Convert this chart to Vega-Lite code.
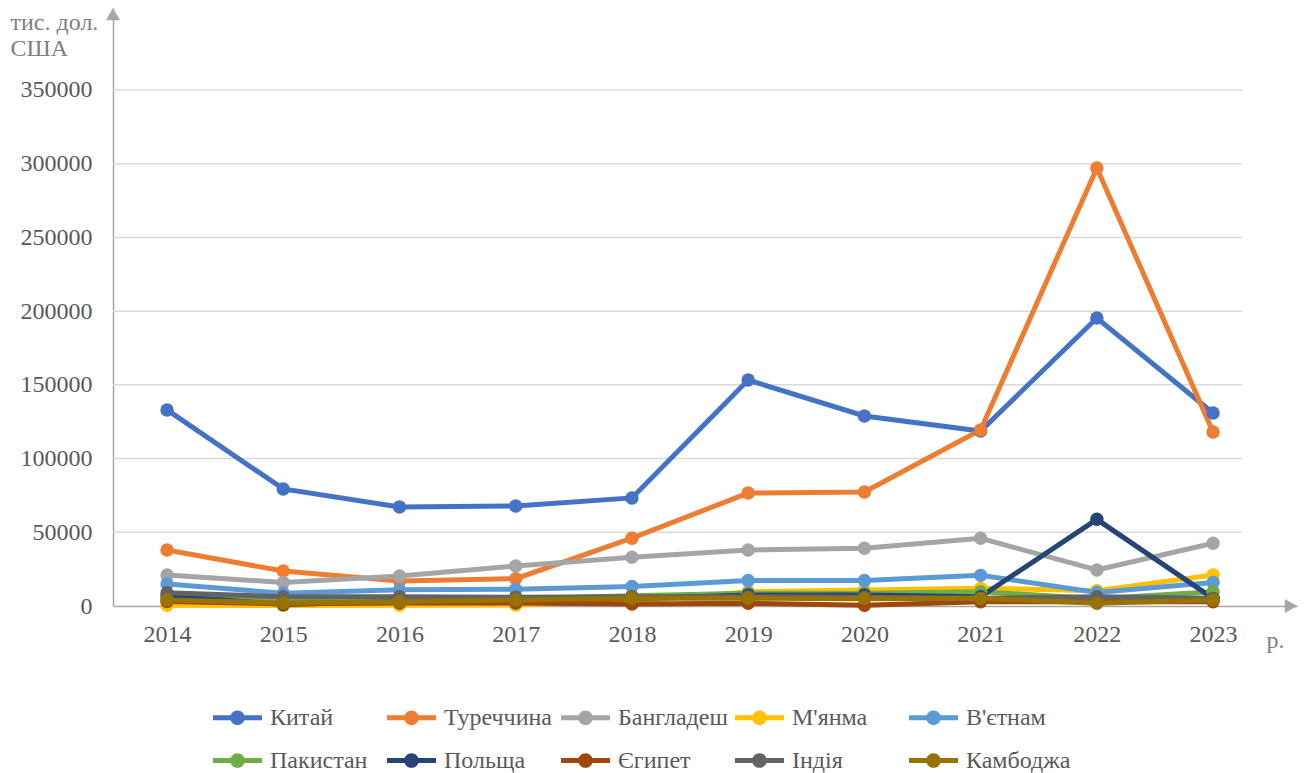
{
  "$schema": "https://vega.github.io/schema/vega-lite/v6.json",
  "autosize": {"type": "none"},
  "padding": {"left": 113, "top": 8, "right": 7, "bottom": 167},
  "width": 1184,
  "height": 598,
  "background": "white",
  "config": {
    "font": "Liberation Serif",
    "view": {"stroke": null},
    "axis": {
      "labelFont": "Liberation Serif",
      "labelFontSize": 24,
      "labelColor": "#595959",
      "titleFont": "Liberation Serif",
      "titleFontSize": 24,
      "titleFontWeight": "normal",
      "titleColor": "#7f7f7f",
      "domainColor": "#a6a6a6",
      "domainWidth": 1.5,
      "ticks": false,
      "grid": false
    },
    "legend": {"labelFont": "Liberation Serif"}
  },
  "datasets": {
    "exports": [
      {"country": "Китай", "year": 2014, "value": 133000},
      {"country": "Китай", "year": 2015, "value": 79400},
      {"country": "Китай", "year": 2016, "value": 67200},
      {"country": "Китай", "year": 2017, "value": 67800},
      {"country": "Китай", "year": 2018, "value": 73300},
      {"country": "Китай", "year": 2019, "value": 153300},
      {"country": "Китай", "year": 2020, "value": 128900},
      {"country": "Китай", "year": 2021, "value": 118700},
      {"country": "Китай", "year": 2022, "value": 195300},
      {"country": "Китай", "year": 2023, "value": 130900},
      {"country": "Туреччина", "year": 2014, "value": 38000},
      {"country": "Туреччина", "year": 2015, "value": 23700},
      {"country": "Туреччина", "year": 2016, "value": 17000},
      {"country": "Туреччина", "year": 2017, "value": 18500},
      {"country": "Туреччина", "year": 2018, "value": 46000},
      {"country": "Туреччина", "year": 2019, "value": 76600},
      {"country": "Туреччина", "year": 2020, "value": 77300},
      {"country": "Туреччина", "year": 2021, "value": 119400},
      {"country": "Туреччина", "year": 2022, "value": 297100},
      {"country": "Туреччина", "year": 2023, "value": 118000},
      {"country": "Бангладеш", "year": 2014, "value": 21000},
      {"country": "Бангладеш", "year": 2015, "value": 16000},
      {"country": "Бангладеш", "year": 2016, "value": 20300},
      {"country": "Бангладеш", "year": 2017, "value": 27100},
      {"country": "Бангладеш", "year": 2018, "value": 33100},
      {"country": "Бангладеш", "year": 2019, "value": 38000},
      {"country": "Бангладеш", "year": 2020, "value": 39200},
      {"country": "Бангладеш", "year": 2021, "value": 45900},
      {"country": "Бангладеш", "year": 2022, "value": 24400},
      {"country": "Бангладеш", "year": 2023, "value": 42600},
      {"country": "М'янма", "year": 2014, "value": 500},
      {"country": "М'янма", "year": 2015, "value": 300},
      {"country": "М'янма", "year": 2016, "value": 500},
      {"country": "М'янма", "year": 2017, "value": 700},
      {"country": "М'янма", "year": 2018, "value": 3000},
      {"country": "М'янма", "year": 2019, "value": 9700},
      {"country": "М'янма", "year": 2020, "value": 10800},
      {"country": "М'янма", "year": 2021, "value": 12000},
      {"country": "М'янма", "year": 2022, "value": 10400},
      {"country": "М'янма", "year": 2023, "value": 21000},
      {"country": "В'єтнам", "year": 2014, "value": 15000},
      {"country": "В'єтнам", "year": 2015, "value": 8600},
      {"country": "В'єтнам", "year": 2016, "value": 11000},
      {"country": "В'єтнам", "year": 2017, "value": 11300},
      {"country": "В'єтнам", "year": 2018, "value": 13200},
      {"country": "В'єтнам", "year": 2019, "value": 17300},
      {"country": "В'єтнам", "year": 2020, "value": 17300},
      {"country": "В'єтнам", "year": 2021, "value": 20800},
      {"country": "В'єтнам", "year": 2022, "value": 9200},
      {"country": "В'єтнам", "year": 2023, "value": 16000},
      {"country": "Пакистан", "year": 2014, "value": 5000},
      {"country": "Пакистан", "year": 2015, "value": 4000},
      {"country": "Пакистан", "year": 2016, "value": 4500},
      {"country": "Пакистан", "year": 2017, "value": 5000},
      {"country": "Пакистан", "year": 2018, "value": 7000},
      {"country": "Пакистан", "year": 2019, "value": 8600},
      {"country": "Пакистан", "year": 2020, "value": 8600},
      {"country": "Пакистан", "year": 2021, "value": 9700},
      {"country": "Пакистан", "year": 2022, "value": 5000},
      {"country": "Пакистан", "year": 2023, "value": 9700},
      {"country": "Польща", "year": 2014, "value": 7000},
      {"country": "Польща", "year": 2015, "value": 1000},
      {"country": "Польща", "year": 2016, "value": 3000},
      {"country": "Польща", "year": 2017, "value": 4000},
      {"country": "Польща", "year": 2018, "value": 5000},
      {"country": "Польща", "year": 2019, "value": 7500},
      {"country": "Польща", "year": 2020, "value": 7500},
      {"country": "Польща", "year": 2021, "value": 6300},
      {"country": "Польща", "year": 2022, "value": 58800},
      {"country": "Польща", "year": 2023, "value": 5200},
      {"country": "Єгипет", "year": 2014, "value": 3000},
      {"country": "Єгипет", "year": 2015, "value": 1500},
      {"country": "Єгипет", "year": 2016, "value": 2000},
      {"country": "Єгипет", "year": 2017, "value": 2000},
      {"country": "Єгипет", "year": 2018, "value": 1300},
      {"country": "Єгипет", "year": 2019, "value": 1800},
      {"country": "Єгипет", "year": 2020, "value": 500},
      {"country": "Єгипет", "year": 2021, "value": 2900},
      {"country": "Єгипет", "year": 2022, "value": 2900},
      {"country": "Єгипет", "year": 2023, "value": 2900},
      {"country": "Індія", "year": 2014, "value": 9000},
      {"country": "Індія", "year": 2015, "value": 6300},
      {"country": "Індія", "year": 2016, "value": 6300},
      {"country": "Індія", "year": 2017, "value": 6000},
      {"country": "Індія", "year": 2018, "value": 6300},
      {"country": "Індія", "year": 2019, "value": 6300},
      {"country": "Індія", "year": 2020, "value": 6000},
      {"country": "Індія", "year": 2021, "value": 5200},
      {"country": "Індія", "year": 2022, "value": 6300},
      {"country": "Індія", "year": 2023, "value": 5200},
      {"country": "Камбоджа", "year": 2014, "value": 4100},
      {"country": "Камбоджа", "year": 2015, "value": 2000},
      {"country": "Камбоджа", "year": 2016, "value": 2900},
      {"country": "Камбоджа", "year": 2017, "value": 4100},
      {"country": "Камбоджа", "year": 2018, "value": 5200},
      {"country": "Камбоджа", "year": 2019, "value": 5200},
      {"country": "Камбоджа", "year": 2020, "value": 5000},
      {"country": "Камбоджа", "year": 2021, "value": 5200},
      {"country": "Камбоджа", "year": 2022, "value": 1800},
      {"country": "Камбоджа", "year": 2023, "value": 4100}
    ]
  },
  "layer": [
    {
      "data": {"values": [
        {"value": 50000}, {"value": 100000}, {"value": 150000}, {"value": 200000},
        {"value": 250000}, {"value": 300000}, {"value": 350000}
      ]},
      "mark": {"type": "rule", "color": "#d9d9d9", "strokeWidth": 1.5},
      "encoding": {
        "y": {"field": "value", "type": "quantitative", "title": ["тис. дол.", "США"]},
        "x": {"datum": 2013.535, "type": "quantitative", "title": "р."},
        "x2": {"datum": 2023.25}
      }
    },
    {
      "data": {"name": "exports"},
      "mark": {"type": "line", "strokeWidth": 5},
      "encoding": {
        "x": {
          "field": "year",
          "type": "quantitative",
          "title": "р.",
          "scale": {"domain": [2013.535, 2023.722], "nice": false, "zero": false},
          "axis": {
            "values": [2014, 2015, 2016, 2017, 2018, 2019, 2020, 2021, 2022, 2023],
            "format": "d",
            "labelFont": "Liberation Serif",
            "labelPadding": 16,
            "labelFlush": false,
            "titleX": 1162,
            "titleY": 34,
            "titleAlign": "center",
            "titleBaseline": "middle"
          }
        },
        "y": {
          "field": "value",
          "type": "quantitative",
          "title": ["тис. дол.", "США"],
          "scale": {"domain": [0, 405620], "nice": false},
          "axis": {
            "values": [0, 50000, 100000, 150000, 200000, 250000, 300000, 350000],
            "format": "d",
            "labelFont": "Liberation Serif",
            "labelPadding": 21,
            "titleAngle": 0,
            "titleAlign": "left",
            "titleBaseline": "top",
            "titleX": -103,
            "titleY": 2,
            "titleLineHeight": 26
          }
        },
        "color": {
          "field": "country",
          "type": "nominal",
          "scale": {
            "domain": ["Китай", "Туреччина", "Бангладеш", "М'янма", "В'єтнам", "Пакистан", "Польща", "Єгипет", "Індія", "Камбоджа"],
            "range": ["#4472c4", "#ed7d31", "#a5a5a5", "#ffc000", "#5b9bd5", "#70ad47", "#264478", "#9e480e", "#636363", "#997300"]
          }
        }
      }
    },
    {
      "data": {"name": "exports"},
      "mark": {"type": "point", "filled": true, "size": 180, "opacity": 1},
      "encoding": {
        "x": {"field": "year", "type": "quantitative", "title": "р."},
        "y": {"field": "value", "type": "quantitative", "title": ["тис. дол.", "США"]},
        "color": {
          "field": "country",
          "type": "nominal",
          "legend": {
            "orient": "none",
            "legendX": 100,
            "legendY": 685,
            "direction": "horizontal",
            "columns": 5,
            "title": null,
            "padding": 0,
            "symbolType": "M-1,-0.1L1,-0.1L1,0.1L-1,0.1Z M0.3,0A0.3,0.3 0 1,1 -0.3,0A0.3,0.3 0 1,1 0.3,0Z",
            "symbolSize": 2401,
            "symbolStrokeWidth": 0,
            "symbolOpacity": 1,
            "labelFont": "Liberation Serif",
            "labelFontSize": 24,
            "labelColor": "#595959",
            "labelOffset": 8,
            "columnPadding": 7,
            "rowPadding": 6,
            "gridAlign": "all"
          }
        }
      }
    },
    {
      "data": {"values": [{}]},
      "mark": {"type": "point", "shape": "triangle-up", "filled": true, "size": 200, "color": "#a6a6a6", "opacity": 1},
      "encoding": {
        "x": {"datum": 2013.535, "type": "quantitative", "title": "р."},
        "y": {"datum": 401480, "type": "quantitative", "title": ["тис. дол.", "США"]}
      }
    },
    {
      "data": {"values": [{}]},
      "mark": {"type": "point", "shape": "triangle-right", "filled": true, "size": 200, "color": "#a6a6a6", "opacity": 1},
      "encoding": {
        "x": {"datum": 2023.67, "type": "quantitative", "title": "р."},
        "y": {"datum": 0, "type": "quantitative", "title": ["тис. дол.", "США"]}
      }
    }
  ]
}
